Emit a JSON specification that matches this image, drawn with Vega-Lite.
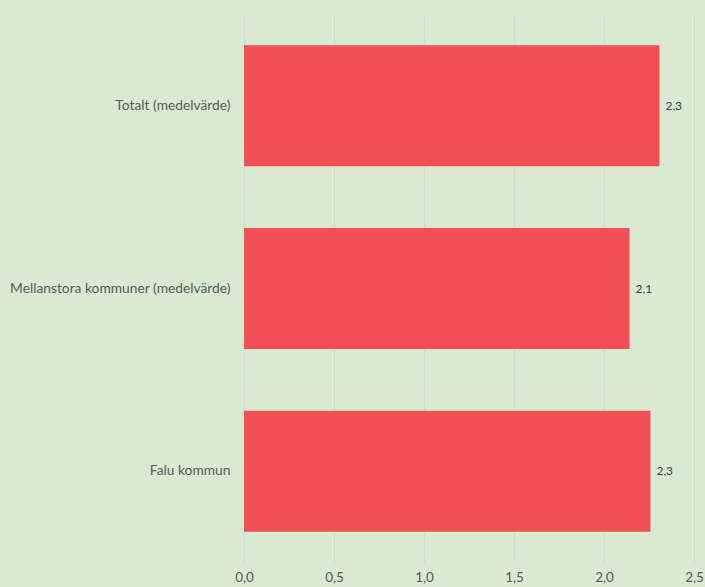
{
  "$schema": "https://vega.github.io/schema/vega-lite/v6.json",
  "autosize": {"type": "none"},
  "padding": {"left": 244, "top": 15, "right": 11, "bottom": 25},
  "width": 450,
  "height": 547,
  "background": "#D9EAD3",
  "config": {
    "view": {"stroke": null},
    "font": "Lato",
    "locale": {"number": {"decimal": ",", "thousands": " ", "grouping": [3], "currency": ["", " kr"]}}
  },
  "data": {
    "values": [
      {"kategori": "Totalt (medelvärde)", "varde": 2.308},
      {"kategori": "Mellanstora kommuner (medelvärde)", "varde": 2.142},
      {"kategori": "Falu kommun", "varde": 2.258}
    ]
  },
  "encoding": {
    "y": {
      "field": "kategori", "type": "nominal", "sort": null,
      "scale": {"paddingInner": 0.337, "paddingOuter": 0.165},
      "axis": {"title": null, "domain": false, "ticks": false, "labelPadding": 14, "labelFontSize": 13.8, "labelLimit": 400, "labelColor": "#595959", "labelFont": "Lato"}
    },
    "x": {
      "field": "varde", "type": "quantitative",
      "scale": {"domain": [0, 2.5], "nice": false},
      "axis": {"title": null, "values": [0, 0.5, 1, 1.5, 2, 2.5], "format": ".1f", "domain": false, "ticks": false, "labelPadding": 8, "labelFontSize": 13.5, "labelColor": "#595959", "labelFont": "Lato", "gridColor": "#D3D8D0", "labelFlush": false}
    }
  },
  "layer": [
    {"mark": {"type": "bar", "color": "#F14E56"}},
    {
      "mark": {"type": "text", "align": "left", "dx": 6, "fontSize": 12, "color": "#404040", "font": "Lato"},
      "encoding": {"text": {"field": "varde", "type": "quantitative", "format": ".1f"}}
    }
  ]
}
